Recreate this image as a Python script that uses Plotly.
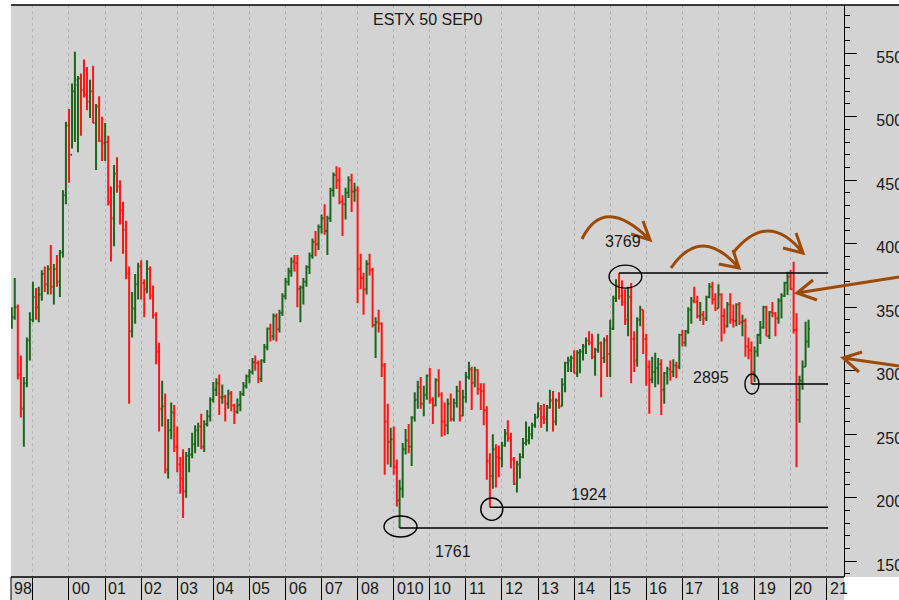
import pandas as pd
import plotly.graph_objects as go

# ---------------- data (monthly bars, ESTX 50 futures, Jun 1998 - Jul 2020) ----------------
months = pd.date_range("1998-06-01", "2020-07-01", freq="MS")

opens = [
    3380, 3420, 3500, 2970, 2700, 2900, 3240,                                   # 1998 Jun-Dec
    3400, 3580, 3500, 3600, 3760, 3680, 3800, 3660, 3800, 3700, 3930, 4380,     # 1999
    4930, 4700, 5200, 5250, 5300, 5210, 5170, 5120, 5200, 4950, 5080, 4810,     # 2000
    4790, 4800, 4330, 4200, 4550, 4450, 4260, 4110, 3760, 3310, 3490, 3680,     # 2001
    3820, 3690, 3640, 3800, 3590, 3440, 3150, 2700, 2720, 2220, 2530, 2670,     # 2002
    2400, 2260, 2150, 2050, 2330, 2340, 2420, 2530, 2560, 2400, 2580, 2640,     # 2003
    2770, 2850, 2900, 2790, 2795, 2740, 2820, 2725, 2675, 2730, 2815, 2880,     # 2004
    2955, 2990, 3065, 3060, 2935, 3080, 3185, 3330, 3270, 3430, 3325, 3455,     # 2005
    3585, 3700, 3780, 3860, 3845, 3645, 3655, 3700, 3815, 3905, 4015, 3995,     # 2006
    4130, 4200, 4100, 4200, 4420, 4540, 4500, 4330, 4310, 4400, 4500, 4410,     # 2007
    4420, 3800, 3730, 3640, 3840, 3790, 3360, 3380, 3370, 3040, 2600, 2440,     # 2008
    2460, 2240, 1980, 2070, 2380, 2450, 2400, 2630, 2770, 2870, 2740, 2810,     # 2009
    2960, 2770, 2725, 2925, 2810, 2600, 2570, 2740, 2620, 2745, 2840, 2645,     # 2010
    2790, 2950, 3010, 2905, 3005, 2855, 2840, 2690, 2290, 2170, 2380, 2320,     # 2011
    2310, 2410, 2505, 2470, 2300, 2110, 2260, 2320, 2430, 2450, 2500, 2570,     # 2012
    2630, 2700, 2630, 2620, 2710, 2765, 2600, 2765, 2720, 2890, 3060, 3080,     # 2013
    3100, 2980, 3140, 3150, 3190, 3235, 3220, 3110, 3165, 3215, 3100, 3240,     # 2014
    3130, 3330, 3570, 3670, 3590, 3540, 3400, 3580, 3250, 3080, 3400, 3480,     # 2015
    3250, 3030, 2930, 2990, 3020, 3050, 2850, 2980, 3010, 2990, 3040, 3030,     # 2016
    3280, 3220, 3310, 3480, 3550, 3540, 3430, 3440, 3410, 3580, 3660, 3560,     # 2017
    3490, 3600, 3430, 3350, 3520, 3400, 3390, 3520, 3380, 3390, 3190, 3160,     # 2018
    2990, 3150, 3280, 3340, 3500, 3270, 3460, 3450, 3410, 3550, 3590, 3690,     # 2019
    3740, 3640, 3320, 2770, 2920, 3030, 3230,                                   # 2020 Jan-Jul
]
highs = [
    3500, 3730, 3520, 3120, 2950, 3260, 3460,
    3700, 3650, 3660, 3790, 3820, 3830, 3990, 3840, 3910, 3950, 4420, 4960,
    5060, 5260, 5510, 5320, 5340, 5450, 5390, 5290, 5400, 5100, 5160, 5000,
    4950, 4850, 4450, 4620, 4680, 4500, 4330, 4180, 3820, 3620, 3760, 3850,
    3870, 3720, 3870, 3820, 3670, 3460, 3220, 2920, 2820, 2620, 2750, 2730,
    2560, 2320, 2380, 2360, 2390, 2510, 2570, 2590, 2660, 2610, 2690, 2790,
    2910, 2940, 2970, 2890, 2810, 2850, 2840, 2740, 2780, 2840, 2910, 2970,
    3010, 3100, 3120, 3080, 3090, 3210, 3340, 3370, 3450, 3450, 3480, 3610,
    3730, 3810, 3890, 3910, 3910, 3670, 3730, 3830, 3930, 4040, 4100, 4150,
    4230, 4310, 4220, 4440, 4560, 4610, 4600, 4380, 4440, 4530, 4550, 4480,
    4450, 3920, 3770, 3870, 3920, 3810, 3420, 3480, 3380, 3060, 2740, 2550,
    2560, 2300, 2140, 2430, 2540, 2580, 2640, 2830, 2920, 2950, 2880, 2970,
    3020, 2790, 2940, 3010, 2830, 2750, 2780, 2820, 2780, 2880, 2920, 2850,
    2990, 3070, 3030, 3030, 3010, 2900, 2900, 2720, 2350, 2500, 2420, 2410,
    2440, 2540, 2610, 2510, 2320, 2290, 2350, 2470, 2600, 2560, 2590, 2660,
    2750, 2730, 2740, 2730, 2850, 2840, 2780, 2830, 2940, 3070, 3110, 3120,
    3160, 3160, 3170, 3210, 3260, 3310, 3290, 3180, 3290, 3230, 3260, 3280,
    3400, 3590, 3720, 3769, 3710, 3640, 3660, 3690, 3310, 3420, 3510, 3480,
    3290, 3080, 3110, 3140, 3100, 3090, 2990, 3030, 3080, 3090, 3070, 3290,
    3320, 3320, 3500, 3580, 3660, 3590, 3540, 3470, 3590, 3690, 3700, 3610,
    3680, 3610, 3490, 3540, 3610, 3520, 3530, 3540, 3440, 3410, 3260, 3230,
    3190, 3290, 3390, 3510, 3510, 3470, 3540, 3460, 3570, 3610, 3700, 3779,
    3792, 3858, 3451, 2960, 3080, 3385, 3400,
]
lows = [
    3330, 3400, 2930, 2630, 2400, 2870, 3080,
    3380, 3400, 3380, 3550, 3620, 3600, 3600, 3520, 3660, 3580, 3890, 4310,
    4480, 4750, 4800, 4720, 4850, 5150, 5050, 4990, 4950, 4580, 4800, 4650,
    4650, 4300, 3860, 3980, 4400, 4150, 3920, 3720, 2740, 3260, 3370, 3560,
    3560, 3420, 3610, 3560, 3410, 3050, 2520, 2560, 2190, 2150, 2460, 2360,
    2200, 2030, 1840, 2000, 2200, 2310, 2350, 2400, 2380, 2360, 2560, 2600,
    2750, 2800, 2650, 2740, 2600, 2700, 2680, 2580, 2660, 2680, 2800, 2860,
    2900, 2970, 3000, 2900, 2910, 3060, 3160, 3230, 3240, 3230, 3300, 3430,
    3560, 3670, 3740, 3780, 3500, 3380, 3520, 3660, 3760, 3880, 3900, 3950,
    4080, 4070, 3910, 4170, 4370, 4430, 4310, 4060, 4190, 4360, 4250, 4330,
    3530, 3640, 3440, 3600, 3750, 3340, 3100, 3300, 2950, 2180, 2260, 2240,
    2180, 1930, 1761, 2000, 2340, 2350, 2250, 2600, 2700, 2700, 2640, 2770,
    2740, 2580, 2720, 2790, 2480, 2490, 2500, 2600, 2600, 2710, 2600, 2640,
    2750, 2930, 2690, 2870, 2810, 2690, 2570, 2140, 1924, 2070, 2080, 2160,
    2240, 2400, 2440, 2230, 2100, 2040, 2150, 2310, 2410, 2420, 2460, 2550,
    2630, 2550, 2580, 2520, 2700, 2520, 2570, 2700, 2720, 2830, 2990, 2990,
    2980, 2950, 2980, 3080, 3130, 3200, 3090, 2960, 3140, 2790, 3060, 2950,
    2950, 3320, 3540, 3560, 3510, 3360, 3270, 2900, 2990, 3030, 3350, 3130,
    2880, 2660, 2900, 2870, 2890, 2650, 2740, 2890, 2920, 2950, 2940, 3010,
    3190, 3190, 3290, 3370, 3530, 3410, 3390, 3360, 3390, 3570, 3520, 3470,
    3490, 3230, 3290, 3340, 3370, 3340, 3350, 3360, 3270, 3110, 3090, 2895,
    2910, 3110, 3210, 3330, 3270, 3250, 3420, 3270, 3370, 3410, 3580, 3595,
    3635, 3293, 2240, 2590, 2850, 3030, 3180,
]
closes = [
    3420, 3500, 2970, 2700, 2900, 3240, 3400,
    3580, 3500, 3600, 3760, 3680, 3800, 3660, 3800, 3700, 3930, 4380, 4930,
    4700, 5200, 5290, 5300, 5210, 5170, 5120, 5200, 4950, 5080, 4810, 4790,
    4800, 4330, 4200, 4550, 4450, 4260, 4110, 3760, 3310, 3490, 3680, 3820,
    3690, 3640, 3800, 3590, 3440, 3150, 2700, 2720, 2220, 2530, 2670, 2400,
    2260, 2150, 2050, 2330, 2340, 2420, 2530, 2560, 2400, 2580, 2640, 2770,
    2850, 2900, 2790, 2795, 2740, 2820, 2725, 2675, 2730, 2815, 2880, 2955,
    2990, 3065, 3060, 2935, 3080, 3185, 3330, 3270, 3430, 3325, 3455, 3585,
    3700, 3780, 3860, 3845, 3645, 3655, 3700, 3815, 3905, 4015, 3995, 4130,
    4200, 4100, 4200, 4420, 4540, 4500, 4330, 4310, 4400, 4500, 4410, 4420,
    3800, 3730, 3640, 3840, 3790, 3360, 3380, 3370, 3040, 2600, 2440, 2460,
    2240, 1980, 2070, 2380, 2450, 2400, 2630, 2770, 2870, 2740, 2810, 2960,
    2770, 2725, 2925, 2810, 2600, 2570, 2740, 2620, 2745, 2840, 2645, 2790,
    2950, 3010, 2905, 3005, 2855, 2840, 2690, 2290, 2170, 2380, 2320, 2310,
    2410, 2505, 2470, 2300, 2110, 2260, 2320, 2430, 2450, 2500, 2570, 2630,
    2700, 2630, 2620, 2710, 2765, 2600, 2765, 2720, 2890, 3060, 3080, 3100,
    2980, 3140, 3150, 3190, 3235, 3220, 3110, 3165, 3215, 3100, 3240, 3130,
    3330, 3570, 3670, 3590, 3540, 3400, 3580, 3250, 3080, 3400, 3480, 3250,
    3030, 2930, 2990, 3020, 3050, 2850, 2980, 3010, 2990, 3040, 3030, 3280,
    3220, 3310, 3480, 3550, 3540, 3430, 3440, 3410, 3580, 3660, 3560, 3490,
    3600, 3430, 3350, 3520, 3400, 3390, 3520, 3380, 3390, 3190, 3160, 2990,
    3150, 3280, 3340, 3500, 3270, 3460, 3450, 3410, 3550, 3590, 3690, 3740,
    3640, 3320, 2770, 2920, 3030, 3230, 3330,
]

year_starts = [f"{y}-01-01" for y in range(1999, 2022)]
year_labels = ["", "00", "01", "02", "03", "04", "05", "06", "07", "08", "010",
               "10", "11", "12", "13", "14", "15", "16", "17", "18", "19", "20", "21"]
first_label = "98"

title_text = "ESTX 50 SEP0"

# horizontal support/resistance levels: (start date, level)
levels = [("2015-04-01", 3769), ("2018-12-01", 2895), ("2011-09-01", 1924), ("2009-03-01", 1761)]
level_end = "2021-01-15"

# ---------------- figure ----------------
W, H = 899, 600
ML, MR, MT, MB = 11, 55, 5, 23
PW, PH = W - ML - MR, H - MT - MB
X_RANGE = ["1998-05-24", "2021-06-25"]
Y_RANGE = [1375, 5879]
FONT = "Liberation Sans, Arial, sans-serif"
GREEN = "#1b661b"
RED = "#ff1414"
BROWN = "#9c4a05"
BG = "#d3d3d3"


def px(x, y):
    """pixel -> paper coordinate string for decorative paths"""
    return f"{(x - ML) / PW:.5f},{(H - MB - y) / PH:.5f}"


fig = go.Figure()
fig.add_trace(go.Ohlc(
    x=months, open=opens, high=highs, low=lows, close=closes,
    increasing=dict(line=dict(color=GREEN, width=2)),
    decreasing=dict(line=dict(color=RED, width=2)),
    tickwidth=0.5, hoverinfo="skip", showlegend=False,
))

shapes = []
# background panels (right axis area and bottom date band)
shapes.append(dict(type="rect", xref="paper", yref="paper", x0=1, x1=(W - ML) / PW, y0=0, y1=1,
                   fillcolor=BG, line=dict(width=0), layer="below"))
shapes.append(dict(type="rect", xref="paper", yref="paper", x0=0, x1=1, y0=-MB / PH, y1=0,
                   fillcolor=BG, line=dict(width=0), layer="below"))
# frame lines
shapes.append(dict(type="line", xref="paper", yref="paper", x0=0, x1=(W - ML) / PW, y0=1, y1=1,
                   line=dict(color="black", width=1.3)))
shapes.append(dict(type="line", xref="paper", yref="paper", x0=0, x1=1, y0=0, y1=0,
                   line=dict(color="black", width=1.3)))
shapes.append(dict(type="line", xref="paper", yref="paper", x0=0, x1=0, y0=-MB / PH, y1=0,
                   line=dict(color="black", width=1)))

# level lines
for d, lv in levels:
    shapes.append(dict(type="line", xref="x", yref="y", x0=d, x1=level_end, y0=lv, y1=lv,
                       line=dict(color="black", width=1.4)))
# ellipses around the pivots
ellipses = [("2014-12-20", "2015-11-17", 3650, 3831),
            ("2018-09-26", "2019-02-15", 2816, 2973),
            ("2011-06-01", "2012-01-10", 1821, 1997),
            ("2008-09-24", "2009-08-24", 1690, 1855)]
for x0, x1, y0, y1 in ellipses:
    shapes.append(dict(type="circle", xref="x", yref="y", x0=x0, x1=x1, y0=y0, y1=y1,
                       line=dict(color="black", width=1.4)))

# brown hand-drawn arrows (pixel geometry converted to paper coords)
arrow_paths = [
    f"M {px(582,239)} Q {px(604,194)} {px(650,240)} M {px(643,221)} L {px(650,240)} L {px(631,234)}",
    f"M {px(671,268)} Q {px(701,224)} {px(739,268)} M {px(733,250)} L {px(739,268)} L {px(719,264)}",
    f"M {px(733,253)} Q {px(768,209)} {px(803,253)} M {px(796,233)} L {px(803,253)} L {px(783,248)}",
    f"M {px(899,277)} L {px(797,293)} M {px(813,280)} L {px(797,293)} L {px(817,300)}",
    f"M {px(899,366)} L {px(843,358)} M {px(862,352)} L {px(843,358)} L {px(859,372)}",
]
for p in arrow_paths:
    shapes.append(dict(type="path", xref="paper", yref="paper", path=p,
                       line=dict(color=BROWN, width=3)))

annotations = []
annotations.append(dict(text=title_text, xref="paper", yref="paper", x=(427 - ML) / PW,
                        y=(H - MB - 19) / PH, showarrow=False, xanchor="center", yanchor="middle",
                        font=dict(family=FONT, size=16, color="#1a1a1a")))
for d, lab in zip(year_starts, year_labels):
    if lab:
        annotations.append(dict(text=lab, xref="x", yref="paper", x=d, y=-11.5 / PH,
                                showarrow=False, xanchor="left", yanchor="middle", xshift=1,
                                font=dict(family=FONT, size=16, color="#1a1a1a")))
annotations.append(dict(text=first_label, xref="paper", yref="paper", x=0, y=-11.5 / PH,
                        showarrow=False, xanchor="left", yanchor="middle", xshift=1,
                        font=dict(family=FONT, size=16, color="#1a1a1a")))
level_text = [("2015-05-10", 4013, "3769"), ("2017-10-17", 2942, "2895"),
              ("2014-05-30", 2028, "1924"), ("2010-08-22", 1572, "1761")]
for d, yv, t in level_text:
    annotations.append(dict(text=t, xref="x", yref="y", x=d, y=yv, showarrow=False,
                            xanchor="center", yanchor="middle",
                            font=dict(family=FONT, size=16, color="#1a1a1a")))

fig.update_layout(
    template="none",
    width=W, height=H, autosize=False,
    margin=dict(l=ML, r=MR, t=MT, b=MB, pad=0),
    paper_bgcolor="white", plot_bgcolor=BG,
    showlegend=False,
    shapes=shapes, annotations=annotations,
    xaxis=dict(type="date", range=X_RANGE, rangeslider=dict(visible=False),
               tickmode="array", tickvals=year_starts, showticklabels=False,
               ticks="outside", ticklen=MB, tickwidth=1, tickcolor="black",
               showgrid=True, gridcolor="#b4b4b4", griddash="dot", gridwidth=1,
               zeroline=False, showline=False, automargin=False, fixedrange=True),
    yaxis=dict(side="right", range=Y_RANGE, tickmode="linear", tick0=1500, dtick=500,
               ticks="outside", ticklen=12, tickwidth=1, tickcolor="black",
               showline=True, linecolor="black", linewidth=1.3,
               showgrid=False, zeroline=False, automargin=False,
               ticklabelstandoff=16, ticklabelshift=4,
               tickfont=dict(family=FONT, size=16, color="#1a1a1a"),
               minor=dict(ticks="outside", ticklen=5, dtick=100, tick0=1500,
                          tickcolor="black", tickwidth=1, showgrid=False)),
)

fig.write_html("out.html", config={"displayModeBar": False},
               post_script="document.body.style.margin='0';")
